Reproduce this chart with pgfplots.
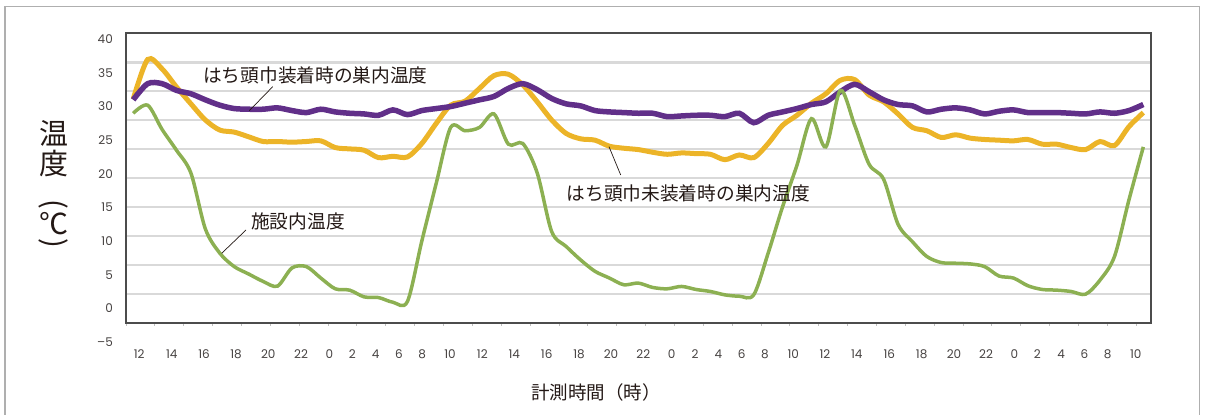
\documentclass[border=0pt]{standalone}
\usepackage{fontspec}
\usepackage{pgfplots}
\pgfplotsset{compat=1.18}
\newfontfamily\jp{Noto Sans CJK JP}
\newfontfamily\tickfont{Poppins}
\definecolor{purp}{RGB}{97,47,137}
\definecolor{yel}{RGB}{236,180,40}
\definecolor{grn}{RGB}{140,176,82}
\definecolor{framec}{RGB}{175,175,175}
\definecolor{txt}{RGB}{35,24,21}
\definecolor{tickc}{RGB}{70,66,65}
\begin{document}
\begin{tikzpicture}
\useasboundingbox (0pt,0pt) rectangle (1205pt,415pt);
\draw[framec, line width=1.5pt] (5pt,-10pt) -- (5pt,408.3pt) -- (1199.3pt,408.3pt) -- (1199.3pt,-10pt);
\begin{axis}[
  at={(126pt,92.3pt)}, anchor=south west,
  scale only axis, width=1025pt, height=289.4pt,
  xmin=11.5, xmax=82.53, ymin=-2.14, ymax=40.89,
  axis lines=box,
  axis line style={draw=black!70, line width=2pt},
  clip=false,
  tick pos=left,
  major tick length=0pt,
  xtick={12.42,14.67,16.91,19.12,21.36,23.63,25.59,27.18,28.80,30.42,32.03,33.95,
         36.19,38.41,40.65,42.89,45.11,47.35,49.32,50.93,52.55,54.17,55.78,57.74,
         59.94,62.14,64.40,66.64,68.88,71.10,73.06,74.65,76.30,77.91,79.53,81.47},
  xticklabels={12,14,16,18,20,22,0,2,4,6,8,10,12,14,16,18,20,22,0,2,4,6,8,10,12,14,16,18,20,22,0,2,4,6,8,10},
  ytick={2.17,6.47,10.77,15.03,19.33,23.68,27.98,32.28,36.54},
  yticklabels={},
  ymajorgrids=true,
  major grid style={draw=black!15, line width=2.2pt},
  extra y ticks={0,5,10,15,20,25,30,35,40},
  extra y tick labels={0,5,10,15,20,25,30,35,40},
  extra y tick style={ymajorgrids=false},
  /pgf/number format/assume math mode=true,
  tick label style={font=\tickfont\fontsize{12}{14}\selectfont, text=tickc, inner sep=0pt},
  x tick label style={anchor=center, yshift=-31.5pt},
  y tick label style={anchor=east, xshift=-13pt},
  extra x ticks={11.5,13.5,...,81.5},
  extra x tick labels={},
  extra x tick style={major tick length=3pt, tick align=outside, tick style={draw=gray!50, line width=0.8pt}},
]
\addplot[yel, line width=5pt, smooth] coordinates {
(12,31.1)(13,37.0)(14,35.6)(15,32.9)(16,30.4)(17,28.0)(18,26.5)(19,26.2)(20,25.5)(21,24.8)(22,24.8)(23,24.7)(24,24.8)(25,24.9)(26,23.9)(27,23.7)(28,23.5)(29,22.4)(30,22.6)(31,22.5)(32,24.5)(33,27.5)(34,30.2)(35,30.8)(36,32.7)(37,34.6)(38,34.8)(39,33.2)(40,30.7)(41,28.0)(42,26.0)(43,25.2)(44,25.0)(45,24.1)(46,23.8)(47,23.6)(48,23.2)(49,22.9)(50,23.1)(51,23.0)(52,22.9)(53,22.1)(54,22.8)(55,22.4)(56,24.5)(57,27.2)(58,28.7)(59,30.5)(60,31.9)(61,33.9)(62,34.0)(63,31.7)(64,30.7)(65,28.9)(66,26.9)(67,26.4)(68,25.4)(69,25.8)(70,25.3)(71,25.1)(72,25.0)(73,24.9)(74,25.1)(75,24.4)(76,24.4)(77,23.9)(78,23.6)(79,24.8)(80,24.2)(81,27.0)(82,29.1)
};
\addplot[purp, line width=5.5pt, smooth] coordinates {
(12,31.0)(13,33.4)(14,33.4)(15,32.4)(16,31.9)(17,31.0)(18,30.2)(19,29.7)(20,29.6)(21,29.6)(22,29.8)(23,29.4)(24,29.1)(25,29.6)(26,29.2)(27,29.0)(28,28.9)(29,28.7)(30,29.5)(31,28.8)(32,29.4)(33,29.7)(34,30.0)(35,30.5)(36,31.0)(37,31.5)(38,32.7)(39,33.4)(40,32.5)(41,31.2)(42,30.4)(43,30.1)(44,29.4)(45,29.2)(46,29.1)(47,29.0)(48,29.0)(49,28.5)(50,28.6)(51,28.7)(52,28.7)(53,28.5)(54,29.0)(55,27.6)(56,28.7)(57,29.2)(58,29.7)(59,30.3)(60,30.7)(61,32.2)(62,33.3)(63,32.2)(64,31.0)(65,30.3)(66,30.1)(67,29.2)(68,29.6)(69,29.8)(70,29.5)(71,28.9)(72,29.3)(73,29.5)(74,29.1)(75,29.1)(76,29.1)(77,29.0)(78,28.9)(79,29.2)(80,29.0)(81,29.4)(82,30.3)
};
\addplot[grn, line width=3.5pt, smooth] coordinates {
(12,29.0)(13,30.2)(14,26.6)(15,23.5)(16,20.1)(17,11.8)(18,8.2)(19,6.2)(20,5.1)(21,4.0)(22,3.3)(23,6.0)(24,6.2)(25,4.5)(26,2.9)(27,2.7)(28,1.7)(29,1.6)(30,0.9)(31,1.0)(32,10.0)(33,18.6)(34,26.9)(35,26.4)(36,26.9)(37,28.9)(38,24.4)(39,24.5)(40,20.1)(41,11.4)(42,9.2)(43,7.2)(44,5.5)(45,4.5)(46,3.5)(47,3.75)(48,3.1)(49,2.9)(50,3.25)(51,2.8)(52,2.5)(53,2.0)(54,1.8)(55,2.0)(56,8.2)(57,15.1)(58,21.3)(59,28.2)(60,24.0)(61,32.4)(62,27.2)(63,21.4)(64,19.2)(65,12.5)(66,9.9)(67,7.7)(68,6.8)(69,6.7)(70,6.6)(71,6.2)(72,4.8)(73,4.5)(74,3.35)(75,2.8)(76,2.7)(77,2.5)(78,2.1)(79,4.2)(80,7.7)(81,16.1)(82,24.0)
};
\end{axis}
\draw[black!70, line width=2pt] (126pt,92.3pt) rectangle (1151pt,381.7pt);
\node[anchor=east, inner sep=0pt, font=\tickfont\fontsize{12}{14}\selectfont, text=tickc] at (113pt,72.7pt) {–5};
\begin{scope}[every node/.style={font=\jp\fontsize{29}{31}\selectfont, text=txt, inner sep=0pt}]
\node at (54pt,282pt) {温};
\node at (54pt,251pt) {度};
\node[rotate=-90] at (54pt,211pt) {(};
\node at (54pt,191pt) {℃};
\node[rotate=-90] at (54pt,172pt) {)};
\end{scope}
\node[font=\jp\fontsize{18.5}{20}\selectfont, text=txt] at (596pt,22.5pt) {計測時間（時）};
\begin{scope}[every node/.style={font=\jp\fontsize{18.7}{20}\selectfont, text=txt, inner sep=0pt, anchor=west}]
\node at (203pt,339.5pt) {はち頭巾装着時の巣内温度};
\node at (566.5pt,222pt) {はち頭巾未装着時の巣内温度};
\node at (251pt,193.3pt) {施設内温度};
\end{scope}
\draw[txt, line width=0.7pt] (272.7pt,328.3pt) -- (249.3pt,304.3pt);
\draw[txt, line width=0.7pt] (609pt,268.3pt) -- (620.7pt,240pt);
\draw[txt, line width=0.7pt] (246pt,185pt) -- (221.7pt,161.7pt);
\end{tikzpicture}
\end{document}
